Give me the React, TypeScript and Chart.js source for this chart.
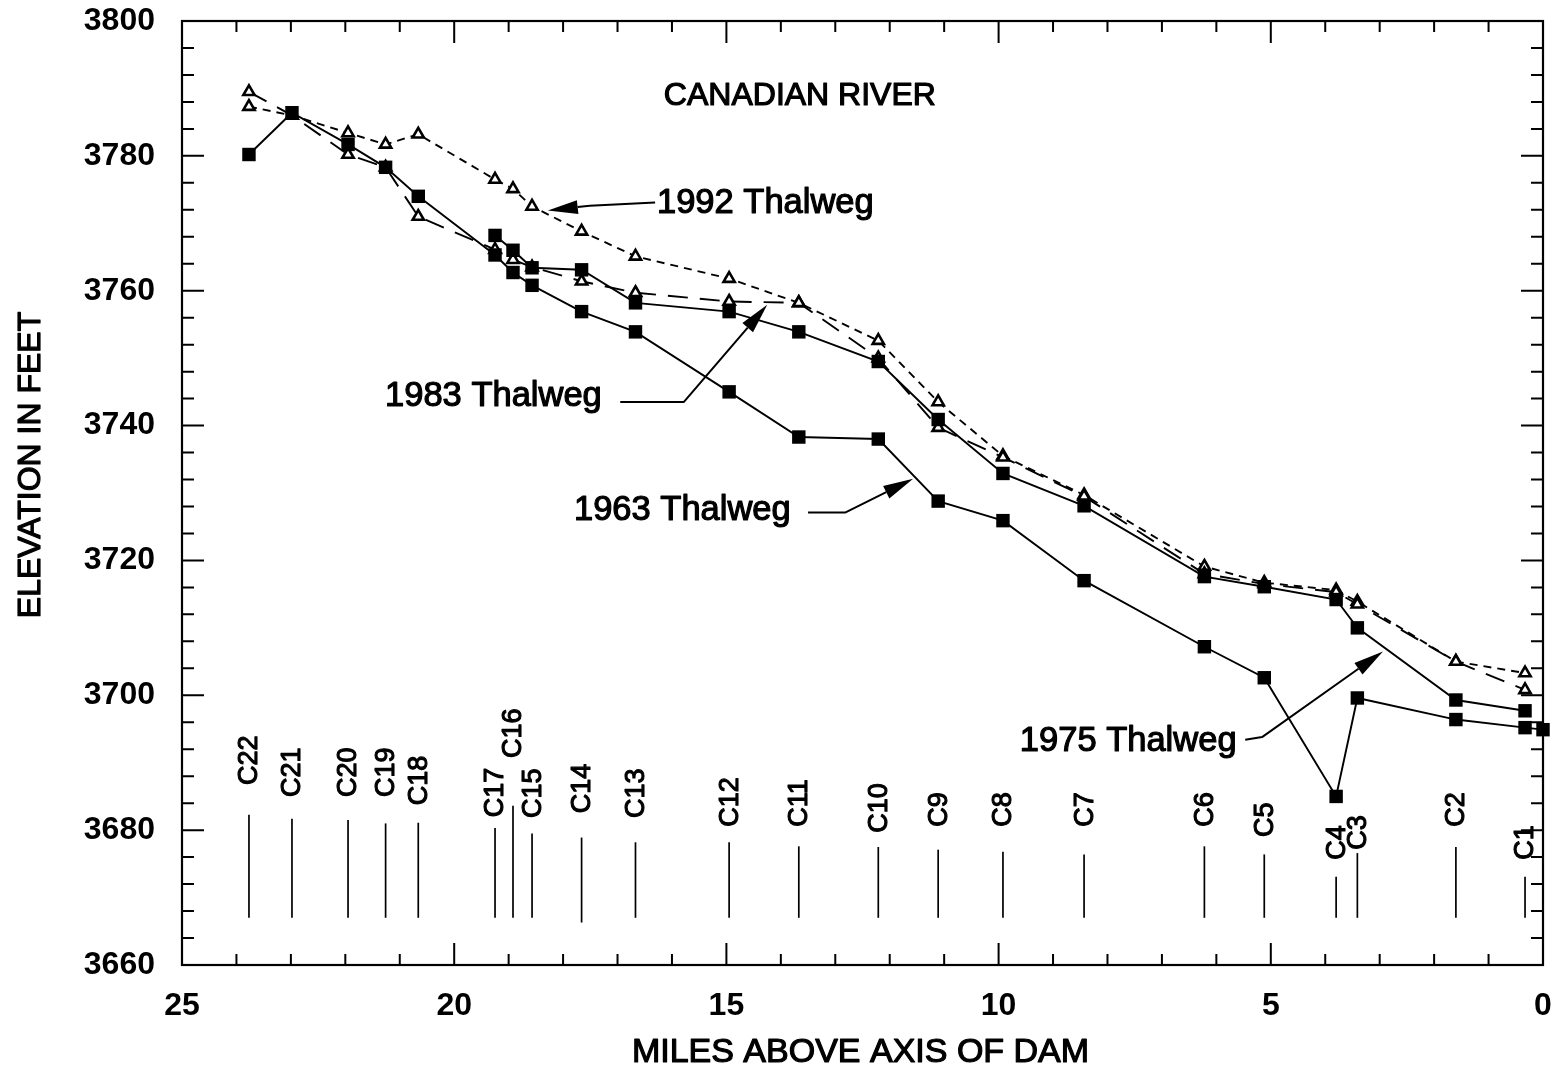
import React, { useEffect, useRef } from "react";
import { Chart, registerables } from "chart.js";

Chart.register(...registerables);

// ---- Data ----
const sectionNames = ["C22", "C21", "C20", "C19", "C18", "C17", "C16", "C15", "C14", "C13", "C12", "C11", "C10", "C9", "C8", "C7", "C6", "C5", "C4", "C3", "C2", "C1"];
const sectionMiles = [23.77, 22.98, 21.95, 21.26, 20.66, 19.25, 18.92, 18.57, 17.66, 16.67, 14.95, 13.67, 12.21, 11.11, 9.92, 8.43, 6.22, 5.12, 3.8, 3.41, 1.6, 0.33];
const damMile = 0;

const thalweg1963 = [3780.2, 3786.4, 3781.7, 3778.3, 3774.0, 3765.3, 3762.7, 3760.8, 3756.9, 3753.9, 3745.0, 3738.3, 3738.0, 3728.8, 3725.9, 3717.0, 3707.2, 3702.6, 3685.0, 3699.6, 3696.4, 3695.2];
const thalweg1963AtDam = 3694.9;
const thalweg1975 = [null, null, null, null, null, 3768.2, 3766.0, 3763.4, 3763.1, 3758.2, 3756.9, 3753.9, 3749.5, 3740.9, 3732.9, 3728.1, 3717.6, 3716.1, 3714.2, 3710.0, 3699.3, 3697.7];
const thalweg1983 = [3789.5, 3786.0, 3780.2, 3778.3, 3771.0, 3766.1, 3764.6, 3763.5, 3761.4, 3759.7, 3758.4, 3758.2, 3750.0, 3739.7, 3735.3, 3729.5, 3718.0, 3716.5, 3715.3, 3713.5, 3705.0, 3700.8];
const thalweg1992 = [3787.3, 3786.0, 3783.4, 3781.7, 3783.2, 3776.5, 3775.1, 3772.5, 3768.8, 3765.1, 3761.8, 3758.2, 3752.6, 3743.5, 3735.5, 3729.7, 3719.1, 3716.7, 3715.6, 3713.9, 3705.0, 3703.3];

// section marker extents (elevation, ft)
const sectionLineTop = [3682.3, 3681.7, 3681.5, 3681.0, 3681.1, 3680.3, 3683.6, 3679.5, 3678.9, 3678.2, 3678.2, 3677.6, 3677.5, 3677.1, 3676.8, 3676.4, 3677.6, 3676.4, 3673.1, 3676.6, 3677.5, 3673.1];
const sectionLineBottom = [3667.0, 3667.0, 3667.0, 3667.0, 3667.0, 3667.0, 3667.0, 3667.0, 3666.3, 3667.0, 3667.0, 3667.0, 3667.0, 3667.0, 3667.0, 3667.0, 3667.0, 3667.0, 3667.0, 3667.0, 3667.0, 3667.0];
const sectionLabelBase = [3686.7, 3684.9, 3684.9, 3684.9, 3683.7, 3681.9, 3690.7, 3681.8, 3682.5, 3681.8, 3680.5, 3680.5, 3679.6, 3680.5, 3680.5, 3680.5, 3680.5, 3679.0, 3675.6, 3677.1, 3680.5, 3675.6];

const chartTitle = "CANADIAN RIVER";
const titlePos = { x: 13.65, y: 3788.9 };

// callout labels: text, label left (mile, elev), leader polyline ending at arrow tip
const callouts = [
  { text: "1992 Thalweg", at: [16.275, 3772.9], leader: [[16.31, 3773.1], [17.51, 3772.6], [18.28, 3771.9]] },
  { text: "1983 Thalweg", at: [21.27, 3744.3], leader: [[16.95, 3743.5], [15.78, 3743.5], [14.25, 3757.9]] },
  { text: "1963 Thalweg", at: [17.8, 3727.4], leader: [[13.5, 3727.1], [12.82, 3727.1], [11.57, 3732.1]] },
  { text: "1975 Thalweg", at: [9.61, 3693.2], leader: [[5.47, 3693.4], [5.16, 3693.8], [2.94, 3706.5]] },
];

const xMin = 0, xMax = 25, yMin = 3660, yMax = 3800;
const xTickStep = 5, yTickStep = 20, xMinorStep = 1, yMinorStep = 4;

const FONT = '"Liberation Sans", Arial, Helvetica, sans-serif';

function toPoints(vals: (number | null)[]) {
  const out: { x: number; y: number }[] = [];
  vals.forEach((v, i) => {
    if (v !== null && v !== undefined) out.push({ x: sectionMiles[i], y: v });
  });
  return out;
}

function boldText(ctx: CanvasRenderingContext2D, text: string, x: number, y: number, sw: number) {
  ctx.fillText(text, x, y);
  ctx.lineWidth = sw;
  ctx.lineJoin = "round";
  ctx.strokeText(text, x, y);
}

const overlayPlugin = {
  id: "overlay",
  beforeDatasetsDraw(chart: any) {
    const { ctx, scales } = chart;
    const xs = scales.x, ys = scales.y;
    ctx.save();
    ctx.strokeStyle = "#000";
    ctx.fillStyle = "#000";
    sectionNames.forEach((name, i) => {
      const px = xs.getPixelForValue(sectionMiles[i]);
      ctx.lineWidth = 1.7;
      ctx.beginPath();
      ctx.moveTo(px, ys.getPixelForValue(sectionLineTop[i]));
      ctx.lineTo(px, ys.getPixelForValue(sectionLineBottom[i]));
      ctx.stroke();
      ctx.save();
      ctx.translate(px, ys.getPixelForValue(sectionLabelBase[i]));
      ctx.rotate(-Math.PI / 2);
      ctx.font = `27px ${FONT}`;
      ctx.textAlign = "left";
      ctx.textBaseline = "middle";
      boldText(ctx, name, 0, 1, 1.1);
      ctx.restore();
    });
    ctx.restore();
  },
  afterDraw(chart: any) {
    const { ctx, scales, chartArea } = chart;
    const xs = scales.x, ys = scales.y;
    const { left, right, top, bottom } = chartArea;
    ctx.save();
    ctx.strokeStyle = "#000";
    ctx.fillStyle = "#000";
    ctx.lineWidth = 2.2;
    ctx.strokeRect(left, top, right - left, bottom - top);
    ctx.lineWidth = 2;
    for (let v = xMin; v <= xMax + 1e-9; v += xMinorStep) {
      const px = xs.getPixelForValue(v);
      const len = Math.abs(v % xTickStep) < 1e-9 ? 22 : 11;
      ctx.beginPath();
      ctx.moveTo(px, bottom);
      ctx.lineTo(px, bottom - len);
      ctx.moveTo(px, top);
      ctx.lineTo(px, top + len);
      ctx.stroke();
    }
    for (let v = yMin; v <= yMax + 1e-9; v += yMinorStep) {
      const py = ys.getPixelForValue(v);
      const len = Math.abs((v - yMin) % yTickStep) < 1e-9 ? 22 : 12;
      ctx.beginPath();
      ctx.moveTo(left, py);
      ctx.lineTo(left + len, py);
      ctx.moveTo(right, py);
      ctx.lineTo(right - len, py);
      ctx.stroke();
    }
    // title
    ctx.font = `32px ${FONT}`;
    ctx.textAlign = "center";
    ctx.textBaseline = "middle";
    boldText(ctx, chartTitle, xs.getPixelForValue(titlePos.x), ys.getPixelForValue(titlePos.y), 1.2);
    // callouts
    callouts.forEach((c) => {
      ctx.font = `34.5px ${FONT}`;
      ctx.textAlign = "left";
      ctx.textBaseline = "middle";
      boldText(ctx, c.text, xs.getPixelForValue(c.at[0]), ys.getPixelForValue(c.at[1]), 1.2);
      const pts = c.leader.map((p) => [xs.getPixelForValue(p[0]), ys.getPixelForValue(p[1])]);
      const n = pts.length;
      const tip = pts[n - 1];
      const prev = pts[n - 2];
      const dx = tip[0] - prev[0], dy = tip[1] - prev[1];
      const d = Math.hypot(dx, dy);
      const ux = dx / d, uy = dy / d;
      const L = 30, W = 7;
      const bx = tip[0] - ux * L, by = tip[1] - uy * L;
      ctx.lineWidth = 2;
      ctx.beginPath();
      ctx.moveTo(pts[0][0], pts[0][1]);
      for (let k = 1; k < n - 1; k++) ctx.lineTo(pts[k][0], pts[k][1]);
      ctx.lineTo(bx, by);
      ctx.stroke();
      ctx.beginPath();
      ctx.moveTo(tip[0], tip[1]);
      ctx.lineTo(bx - uy * W, by + ux * W);
      ctx.lineTo(bx + uy * W, by - ux * W);
      ctx.closePath();
      ctx.fill();
    });
    // axis titles
    ctx.font = `34px ${FONT}`;
    ctx.textAlign = "center";
    ctx.textBaseline = "alphabetic";
    boldText(ctx, "MILES ABOVE AXIS OF DAM", (left + right) / 2 - 2, 1062, 1.2);
    ctx.save();
    ctx.translate(40, 465);
    ctx.rotate(-Math.PI / 2);
    ctx.font = `32px ${FONT}`;
    boldText(ctx, "ELEVATION IN FEET", 0, 0, 1.2);
    ctx.restore();
    ctx.restore();
  },
};

export default function App() {
  const canvasRef = useRef<HTMLCanvasElement | null>(null);

  useEffect(() => {
    const canvas = canvasRef.current;
    if (!canvas) return;
    const data1963 = toPoints(thalweg1963);
    data1963.push({ x: damMile, y: thalweg1963AtDam });

    const zeroPad = (scale: any) => {
      scale.paddingTop = 0;
      scale.paddingBottom = 0;
      scale.paddingLeft = 0;
      scale.paddingRight = 0;
    };

    const chart = new Chart(canvas, {
      type: "scatter",
      data: {
        datasets: [
          {
            label: "1963 Thalweg",
            data: data1963,
            showLine: true,
            clip: 12,
            borderColor: "#000",
            backgroundColor: "#000",
            borderWidth: 1.9,
            pointStyle: "rect",
            pointRadius: 9.5,
            pointBorderWidth: 0,
          },
          {
            label: "1975 Thalweg",
            data: toPoints(thalweg1975),
            showLine: true,
            borderColor: "#000",
            backgroundColor: "#000",
            borderWidth: 1.9,
            pointStyle: "rect",
            pointRadius: 9.5,
            pointBorderWidth: 0,
          },
          {
            label: "1983 Thalweg",
            data: toPoints(thalweg1983),
            showLine: true,
            borderColor: "#000",
            backgroundColor: "#fff",
            borderWidth: 1.9,
            borderDash: [20, 12],
            pointStyle: "triangle",
            pointRadius: 6.5,
            pointBorderWidth: 2.6,
            pointBorderColor: "#000",
            pointBackgroundColor: "#fff",
          },
          {
            label: "1992 Thalweg",
            data: toPoints(thalweg1992),
            showLine: true,
            borderColor: "#000",
            backgroundColor: "#fff",
            borderWidth: 1.9,
            borderDash: [8, 6],
            pointStyle: "triangle",
            pointRadius: 6.5,
            pointBorderWidth: 2.6,
            pointBorderColor: "#000",
            pointBackgroundColor: "#fff",
          },
        ],
      },
      options: {
        animation: false,
        responsive: false,
        maintainAspectRatio: false,
        layout: { padding: { left: 0, right: 13, top: 21, bottom: 0 } },
        plugins: {
          legend: { display: false },
          tooltip: { enabled: false },
          title: { display: false },
        },
        scales: {
          x: {
            type: "linear",
            reverse: true,
            min: xMin,
            max: xMax,
            grid: { display: false, drawTicks: false },
            border: { display: false },
            ticks: {
              stepSize: xTickStep,
              padding: 22,
              color: "#000",
              font: { family: FONT, size: 32, weight: "bold" },
              maxRotation: 0,
              callback: (v: any) => String(v),
            },
            afterFit: (scale: any) => {
              scale.height = 103;
              zeroPad(scale);
            },
          },
          y: {
            type: "linear",
            min: yMin,
            max: yMax,
            grid: { display: false, drawTicks: false },
            border: { display: false },
            ticks: {
              stepSize: yTickStep,
              padding: 27,
              color: "#000",
              font: { family: FONT, size: 32, weight: "bold" },
              callback: (v: any) => String(v),
            },
            afterFit: (scale: any) => {
              scale.width = 182;
              zeroPad(scale);
            },
          },
        },
      },
      plugins: [overlayPlugin],
    });
    return () => chart.destroy();
  }, []);

  return (
    <div style={{ position: "fixed", left: 0, top: 0, width: 1556, height: 1068, background: "#fff" }}>
      <canvas ref={canvasRef} width={1556} height={1068} style={{ width: 1556, height: 1068, display: "block" }} />
    </div>
  );
}
